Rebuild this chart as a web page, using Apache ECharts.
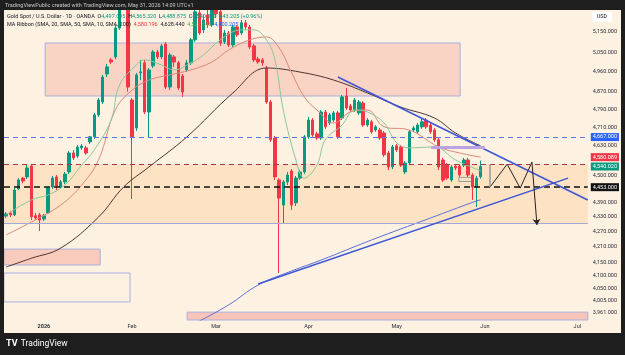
<!DOCTYPE html>
<html>
<head>
<meta charset="utf-8">
<script src="https://cdn.jsdelivr.net/npm/echarts@6/dist/echarts.min.js"></script>
<style>
  html, body { margin: 0; padding: 0; background: #1e1e1e; }
  #chart { width: 625px; height: 355px; }
</style>
</head>
<body>
<div id="chart"></div>
<script>
// trading days (weekdays without the market holidays)
const holidays = ['2025-12-25', '2026-01-01', '2026-04-03'];
const dates = [];
for (let d = new Date(Date.UTC(2025, 11, 18)); d <= new Date(Date.UTC(2026, 6, 3)); d.setUTCDate(d.getUTCDate() + 1)) {
  const s = d.toISOString().slice(0, 10);
  const wd = d.getUTCDay();
  if (wd === 0 || wd === 6 || holidays.includes(s)) continue;
  dates.push(s);
}
const monthNames = ['Jan', 'Feb', 'Mar', 'Apr', 'May', 'Jun', 'Jul', 'Aug', 'Sep', 'Oct', 'Nov', 'Dec'];

// daily candles: open, close, low, high
const candles = [
  [4334, 4343, 4326, 4351], [4347, 4339, 4330, 4355], [4339, 4441, 4334, 4450], [4446, 4483, 4441, 4491],
  [4491, 4479, 4470, 4496], [4496, 4534, 4487, 4550], [4542, 4331, 4318, 4550], [4335, 4326, 4318, 4347],
  [4339, 4318, 4274, 4347], [4322, 4335, 4314, 4343], [4347, 4450, 4343, 4454], [4454, 4491, 4446, 4500],
  [4496, 4458, 4441, 4504], [4454, 4475, 4450, 4483], [4475, 4508, 4466, 4517], [4517, 4598, 4508, 4607],
  [4598, 4577, 4568, 4611], [4585, 4624, 4577, 4633], [4620, 4628, 4611, 4637], [4620, 4598, 4590, 4629],
  [4646, 4668, 4637, 4672], [4668, 4765, 4659, 4774], [4765, 4832, 4756, 4841], [4823, 4937, 4814, 4947],
  [4951, 4984, 4937, 4998], [5017, 5007, 4998, 5026], [5031, 5169, 5021, 5184], [5169, 5282, 5160, 5307],
  [5290, 5410, 5270, 5600], [5420, 4891, 4870, 5590], [4832, 4668, 4404, 4841], [4707, 4947, 4694, 4956],
  [4956, 4961, 4923, 5017], [5003, 4778, 4769, 5017], [4778, 4970, 4663, 4979], [4989, 5054, 4979, 5064],
  [5054, 5031, 5021, 5064], [5031, 5083, 5021, 5092], [5092, 4891, 4882, 5102], [4891, 5040, 4877, 5050],
  [5031, 5007, 4984, 5040], [5003, 4887, 4877, 5012], [4942, 4868, 4846, 4951], [4970, 5003, 4961, 5017],
  [5003, 5112, 4993, 5121], [5112, 5248, 5102, 5267], [5243, 5145, 5136, 5257], [5160, 5208, 5145, 5233],
  [5233, 5184, 5169, 5257], [5184, 5257, 5174, 5297], [5257, 5238, 5218, 5282], [5248, 5097, 5083, 5267],
  [5102, 5145, 5092, 5160], [5145, 5088, 5078, 5155], [5088, 5174, 5078, 5184], [5174, 5136, 5126, 5184],
  [5145, 5194, 5136, 5208], [5194, 5174, 5160, 5208], [5174, 5078, 5069, 5184], [5083, 5017, 5007, 5092],
  [5021, 5007, 4998, 5031], [5017, 5003, 4989, 5026], [4979, 4823, 4814, 4989], [4823, 4655, 4646, 4832],
  [4663, 4496, 4483, 4672], [4483, 4408, 4109, 4491], [4379, 4475, 4306, 4483], [4475, 4504, 4462, 4517],
  [4521, 4379, 4359, 4529], [4388, 4491, 4375, 4500], [4491, 4517, 4483, 4525], [4517, 4668, 4508, 4676],
  [4668, 4742, 4659, 4756], [4742, 4676, 4668, 4751], [4681, 4663, 4655, 4690], [4663, 4778, 4655, 4787],
  [4778, 4712, 4703, 4787], [4729, 4765, 4720, 4774], [4742, 4774, 4734, 4782], [4774, 4668, 4659, 4782],
  [4751, 4846, 4742, 4855], [4850, 4796, 4787, 4887], [4805, 4787, 4778, 4814], [4787, 4832, 4778, 4841],
  [4774, 4823, 4765, 4832], [4818, 4720, 4712, 4827], [4720, 4742, 4712, 4751], [4734, 4690, 4681, 4742],
  [4698, 4712, 4690, 4720], [4698, 4663, 4655, 4707], [4685, 4590, 4581, 4694], [4598, 4538, 4525, 4607],
  [4538, 4624, 4529, 4633], [4629, 4611, 4603, 4637], [4624, 4546, 4538, 4633], [4517, 4555, 4508, 4563],
  [4555, 4690, 4546, 4698], [4698, 4707, 4690, 4716], [4690, 4720, 4681, 4729], [4712, 4734, 4703, 4747],
  [4742, 4712, 4703, 4751], [4720, 4690, 4681, 4729], [4698, 4655, 4646, 4707], [4655, 4538, 4525, 4663],
  [4568, 4483, 4475, 4577], [4546, 4491, 4483, 4555], [4483, 4538, 4475, 4546], [4542, 4534, 4525, 4550],
  [4542, 4504, 4496, 4550], [4546, 4568, 4538, 4577], [4568, 4504, 4496, 4577], [4504, 4454, 4400, 4512],
  [4454, 4491, 4371, 4500], [4497.095, 4540.02, 4488.875, 4565.32]
];

// MA ribbon as [bar index, price]
const sma10 = [[0, 4339], [6, 4400], [10, 4421], [14, 4462], [18, 4546], [21, 4611], [25, 4742], [27, 4900],
  [31, 4993], [33, 5017], [37, 4993], [40, 4970], [44, 5003], [47, 5040], [51, 5112], [56, 5160], [59, 5160],
  [62, 5112], [64, 5017], [66, 4787], [69, 4568], [71, 4491], [74, 4546], [76, 4655], [80, 4720], [83, 4787],
  [86, 4778], [90, 4729], [93, 4642], [96, 4620], [102, 4624], [107, 4568], [113, 4521.546]];
const sma20 = [[0, 4258], [6, 4310], [13, 4379], [18, 4462], [22, 4568], [26, 4787], [30, 4877], [34, 4923],
  [39, 4947], [44, 4970], [49, 5007], [53, 5064], [58, 5112], [62, 5126], [65, 5074], [68, 4956], [71, 4846],
  [74, 4787], [78, 4729], [82, 4778], [86, 4787], [90, 4712], [96, 4698], [103, 4624], [108, 4598], [113, 4580.196]];
const sma50 = [[0, 4132], [6, 4166], [13, 4206], [22, 4330], [28, 4454], [34, 4538], [43, 4667], [54, 4864],
  [62, 4979], [70, 4960], [78, 4923], [86, 4864], [94, 4800], [102, 4751], [107, 4685], [113, 4628.44]];
const sma200 = [[46, 3928], [53, 3988], [60, 4063], [68, 4117], [75, 4159], [87, 4238], [101, 4326], [112, 4396], [113, 4400.2]];

// price scale labels and drawn levels
const priceTicks = [5150, 5050, 4960, 4870, 4790, 4710, 4630, 4500, 4390, 4330, 4270, 4210, 4150, 4100, 4050, 4005, 3961];
const blueLevel = 4667;
const redLevel = 4550;
const blackLevel = 4453;
const lastClose = 4540.02;
const sma20Last = 4580.089;
const zigzag = [[115.2, 4453], [119.3, 4550], [122.4, 4449], [125.2, 4559]];

const fmt = v => v.toLocaleString('en-US', { minimumFractionDigits: 3, maximumFractionDigits: 3 });
const FONT = 'Roboto, "Noto Sans", sans-serif';
const tickLabel = { position: 'end', distance: 5, color: '#2a2e39', fontSize: 5.5, fontFamily: FONT };
const boxLabel = (bg) => ({ position: 'end', distance: 3, color: '#fff', backgroundColor: bg, padding: [1, 2], fontSize: 5.5, fontFamily: FONT });

const chart = echarts.init(document.getElementById('chart'));
chart.setOption({
  animation: false,
  backgroundColor: '#fdf1e1',
  grid: { left: 4, right: 37.2, top: 10, bottom: 35 },
  xAxis: [
    {
      type: 'category', data: dates, boundaryGap: true,
      axisLine: { show: false }, axisTick: { show: false }, splitLine: { show: false },
      axisLabel: {
        margin: 4, fontSize: 5.5, color: '#2a2e39', fontFamily: FONT,
        interval: (i, v) => i > 0 && v.slice(5, 7) !== dates[i - 1].slice(5, 7),
        formatter: v => v.slice(5, 7) === '01' ? '{b|' + v.slice(0, 4) + '}' : monthNames[+v.slice(5, 7) - 1],
        rich: { b: { fontWeight: 'bold', fontSize: 5.5, color: '#2a2e39', fontFamily: FONT } }
      }
    },
    { type: 'value', min: -0.5, max: dates.length - 0.5, show: false }
  ],
  yAxis: {
    type: 'log', logBase: 10, min: 3932, max: 5257, position: 'right',
    axisLine: { show: false }, axisTick: { show: false }, axisLabel: { show: false }, splitLine: { show: false }
  },
  series: [
    {
      name: 'zones', type: 'line', xAxisIndex: 1, data: [], silent: true,
      markArea: {
        silent: true,
        data: [
          [{ coord: [9.3, 5097], itemStyle: { color: '#f9d3c4', borderColor: '#a9b0e0', borderWidth: 1 } }, { coord: [108.1, 4850] }],
          [{ coord: [-0.5, redLevel], itemStyle: { color: '#fde3c3' } }, { coord: [138.5, 4304] }],
          [{ coord: [-0.5, 4202], itemStyle: { color: '#f9cbbd', borderColor: '#a9b0e0', borderWidth: 1 } }, { coord: [22.4, 4140] }],
          [{ coord: [-0.5, 4109], itemStyle: { color: 'rgba(0,0,0,0)', borderColor: '#a9b0e0', borderWidth: 1 } }, { coord: [29.5, 3999] }],
          [{ coord: [43.1, 3961], itemStyle: { color: '#f8c5b9', borderColor: '#a9b0e0', borderWidth: 1 } }, { coord: [138.5, 3932] }],
          [{ coord: [107.8, 4494], itemStyle: { color: 'rgba(0,0,0,0)', borderColor: '#9a9a9a', borderWidth: 1 } }, { coord: [111.2, 4477] }]
        ]
      }
    },
    {
      name: 'Gold', type: 'candlestick', data: candles, barWidth: 3,
      itemStyle: { color: '#089981', color0: '#f23645', borderColor: '#089981', borderColor0: '#f23645', borderWidth: 1 }
    },
    { name: 'SMA 200', type: 'line', xAxisIndex: 1, data: sma200, smooth: 0.4, symbol: 'none', lineStyle: { color: '#5b6fd8', width: 1 } },
    { name: 'SMA 50', type: 'line', xAxisIndex: 1, data: sma50, smooth: 0.4, symbol: 'none', lineStyle: { color: '#4e342e', width: 1 } },
    { name: 'SMA 20', type: 'line', xAxisIndex: 1, data: sma20, smooth: 0.4, symbol: 'none', lineStyle: { color: '#d98a7a', width: 1 } },
    { name: 'SMA 10', type: 'line', xAxisIndex: 1, data: sma10, smooth: 0.4, symbol: 'none', lineStyle: { color: '#8cc79a', width: 1 } },
    { name: 'zigzag', type: 'line', xAxisIndex: 1, data: zigzag, symbol: 'none', lineStyle: { color: '#222', width: 1 } },
    {
      name: 'levels', type: 'line', xAxisIndex: 1, data: [], silent: true,
      markLine: {
        silent: true, symbol: 'none',
        data: [
          ...priceTicks.map(v => ({ yAxis: v, lineStyle: { color: 'rgba(0,0,0,0)' }, label: Object.assign({ formatter: fmt(v) }, tickLabel) })),
          { yAxis: 4304, lineStyle: { color: '#a0a8dc', width: 1, type: 'solid' }, label: { show: false } },
          { yAxis: blueLevel, lineStyle: { color: '#5b78e6', width: 1, type: [5, 4] }, label: Object.assign({ formatter: fmt(blueLevel) }, boxLabel('#2962ff')) },
          { yAxis: redLevel, lineStyle: { color: '#a8354c', width: 1.2, type: [5, 4] }, label: { show: false } },
          { yAxis: sma20Last, lineStyle: { color: 'rgba(0,0,0,0)' }, label: Object.assign({ formatter: fmt(sma20Last) }, boxLabel('#f23645')) },
          { yAxis: lastClose, lineStyle: { color: 'rgba(0,0,0,0)' }, label: Object.assign({ formatter: fmt(lastClose) }, boxLabel('#089981')) },
          { yAxis: blackLevel, lineStyle: { color: '#111', width: 1.5, type: [6, 4] }, label: Object.assign({ formatter: fmt(blackLevel) }, boxLabel('#111')) },
          [{ coord: [79, 4937], lineStyle: { color: '#3d55d6', width: 1.5, type: 'solid' } }, { coord: [138.5, 4400] }],
          [{ coord: [60, 4067], lineStyle: { color: '#3d55d6', width: 1.5, type: 'solid' } }, { coord: [133.8, 4491] }],
          [{ coord: [101.2, 4624], lineStyle: { color: '#b9a3e0', width: 3, type: 'solid' } }, { coord: [114, 4624] }],
          [{ coord: [115.2, 4550], lineStyle: { color: '#9a9a9a', width: 1.5, type: 'solid' } }, { coord: [115.2, 4453] }],
          [{ coord: [125.2, 4559], lineStyle: { color: '#222', width: 1, type: 'solid' } }, { coord: [126.4, 4298], symbol: 'arrow', symbolSize: 6 }]
        ].map(d => Array.isArray(d) ? d.map(p => Object.assign({ label: { show: false } }, p)) : d)
      }
    }
  ],
  graphic: [
    { type: 'rect', shape: { x: 0, y: 0, width: 625, height: 10 }, style: { fill: '#1e1e1e' }, z: 200 },
    { type: 'rect', shape: { x: 0, y: 0, width: 4, height: 355 }, style: { fill: '#1e1e1e' }, z: 200 },
    { type: 'rect', shape: { x: 621, y: 0, width: 4, height: 355 }, style: { fill: '#1e1e1e' }, z: 200 },
    { type: 'rect', shape: { x: 0, y: 333, width: 625, height: 22 }, style: { fill: '#1e1e1e' }, z: 200 },
    { type: 'text', x: 5, y: 5.5, z: 210, style: { text: 'TradingViewPublic created with TradingView.com, May 31, 2026 14:09 UTC+1', fill: '#c9c9c9', fontSize: 5.5, fontFamily: FONT, verticalAlign: 'middle' } },
    {
      type: 'text', x: 7, y: 17, z: 210,
      style: {
        text: '{d|Gold Spot / U.S. Dollar · 1D · OANDA}  {d|O}{g|4,497.095}  {d|H}{g|4,565.320}  {d|L}{g|4,488.875}  {d|C}{g|4,540.020}  {g|+43.205 (+0.96%)}',
        verticalAlign: 'middle', fontSize: 5.5, fontFamily: FONT,
        rich: { d: { fill: '#131722', fontSize: 5.5, fontFamily: FONT }, g: { fill: '#089981', fontSize: 5.5, fontFamily: FONT } }
      }
    },
    {
      type: 'text', x: 7, y: 24.5, z: 210,
      style: {
        text: '{d|MA Ribbon (SMA, 20, SMA, 50, SMA, 10, SMA, 200)}  {r|4,580.196}  {d|4,628.440}  {g|4,521.546}  {b|4,400.205}',
        verticalAlign: 'middle', fontSize: 5.5, fontFamily: FONT,
        rich: {
          d: { fill: '#131722', fontSize: 5.5, fontFamily: FONT }, r: { fill: '#f23645', fontSize: 5.5, fontFamily: FONT },
          g: { fill: '#4caf50', fontSize: 5.5, fontFamily: FONT }, b: { fill: '#2962ff', fontSize: 5.5, fontFamily: FONT }
        }
      }
    },
    { type: 'rect', shape: { x: 592, y: 12, width: 20, height: 10 }, style: { fill: '#ffffff' }, z: 210 },
    { type: 'text', x: 602, y: 17, z: 211, style: { text: 'USD', fill: '#131722', fontSize: 5.5, fontFamily: FONT, align: 'center', verticalAlign: 'middle' } },
    { type: 'text', x: 6, y: 344, z: 210, style: { text: '{l|TV} {t|TradingView}', verticalAlign: 'middle', rich: { l: { fill: '#fff', fontSize: 9, fontWeight: 'bold', fontFamily: FONT }, t: { fill: '#fff', fontSize: 8.5, fontFamily: FONT } } } }
  ]
});
</script>
</body>
</html>
